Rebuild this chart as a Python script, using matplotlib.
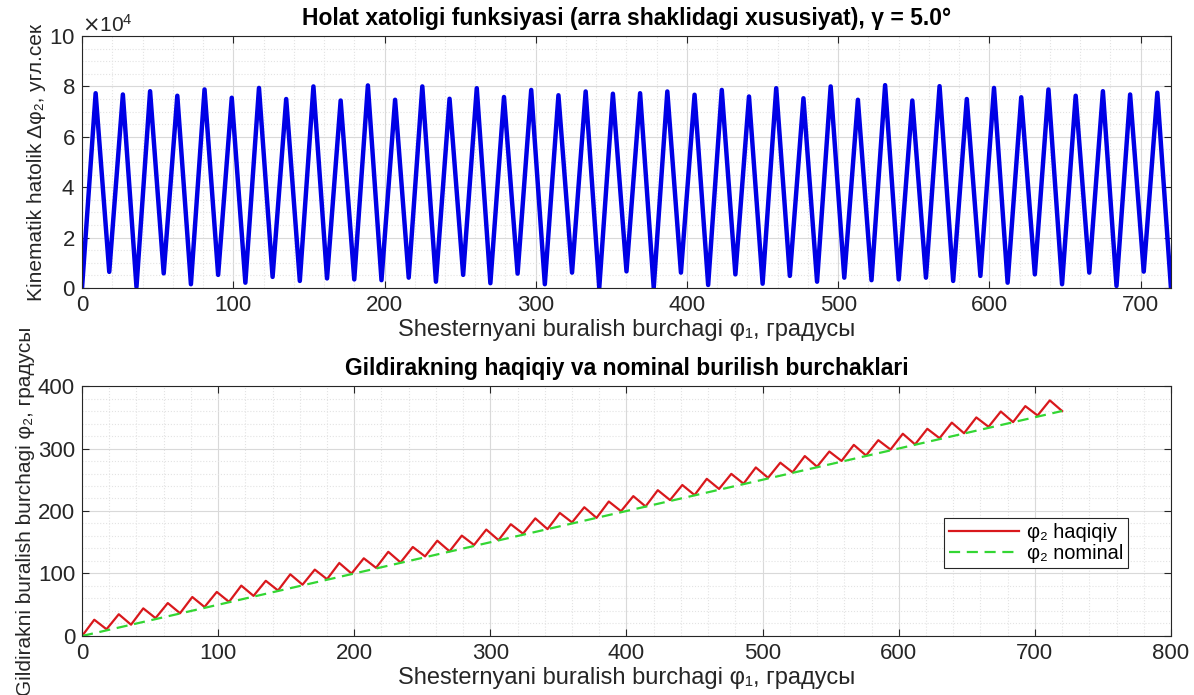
import numpy as np
import matplotlib.pyplot as plt
from matplotlib.ticker import MultipleLocator, ScalarFormatter

plt.rcParams['font.family'] = ['Liberation Sans', 'DejaVu Sans']

# Top chart: kinematic error, vertices every 9 degrees (peak / trough)
err_peaks = [7.73, 7.68, 7.81, 7.63, 7.88, 7.55, 7.94, 7.50, 8.00, 7.44,
             8.04, 7.47, 8.00, 7.51, 7.93, 7.58, 7.86, 7.65, 7.80, 7.71,
             7.73, 7.80, 7.67, 7.86, 7.60, 7.93, 7.53, 8.00, 7.47, 8.05,
             7.44, 8.01, 7.50, 7.94, 7.57, 7.88, 7.63, 7.81, 7.68, 7.75]  # x1e4 arcsec
err_troughs = [0.64, 0.04, 0.58, 0.15, 0.52, 0.21, 0.44, 0.28, 0.38, 0.34,
               0.31, 0.41, 0.25, 0.52, 0.19, 0.57, 0.15, 0.61, 0.01, 0.66,
               0.01, 0.61, 0.12, 0.54, 0.17, 0.48, 0.25, 0.41, 0.31, 0.34,
               0.41, 0.28, 0.48, 0.21, 0.54, 0.15, 0.61, 0.08, 0.65]

# Bottom chart: actual wheel angle, vertices every 9 degrees
phi2_peaks = [26.0, 34.8, 44.2, 52.7, 62.4, 70.5, 80.6, 88.3, 98.7, 106.2,
              116.8, 124.3, 134.7, 142.4, 152.5, 160.6, 170.3, 178.8, 188.2, 196.9,
              206.0, 215.2, 223.8, 233.3, 241.6, 251.5, 259.4, 269.7, 277.3, 287.9,
              295.2, 305.8, 313.3, 323.6, 331.5, 341.4, 349.7, 359.2, 367.8, 377.0]
phi2_troughs = [10.8, 18.1, 28.6, 36.4, 46.4, 54.6, 64.2, 72.8, 82.1, 90.9,
                99.9, 109.1, 117.7, 127.4, 135.5, 145.6, 153.4, 163.7, 171.0, 181.8,
                189.0, 199.7, 207.3, 217.5, 225.5, 235.3, 243.7, 253.1, 261.9, 270.9,
                280.1, 288.8, 298.3, 306.6, 316.5, 324.4, 334.7, 342.2, 352.8]
nominal_x = [0, 720]
nominal_y = [0, 360]

phi1 = np.arange(0, 721, 9)


def zigzag(start, peaks, troughs, end):
    vals = [start]
    for i, p in enumerate(peaks):
        vals.append(p)
        if i < len(troughs):
            vals.append(troughs[i])
    vals.append(end)
    return np.array(vals)


err = zigzag(0.0, err_peaks, err_troughs, 0.0) * 1e4
phi2 = zigzag(0.0, phi2_peaks, phi2_troughs, 360.0)

tick_col = '#262626'
fs = 16      # tick labels
fs_x = 17    # x labels
fs_y = 15    # y labels
fs_t = 16.5  # titles


def style_axes(ax):
    ax.grid(True, which='major', color='#d9d9d9', linewidth=0.8)
    ax.grid(True, which='minor', color='#e3e3e3', linestyle=':', linewidth=0.8)
    ax.tick_params(which='major', direction='in', top=True, right=True,
                   length=5, width=0.8, colors=tick_col, labelsize=fs, pad=5)
    ax.tick_params(which='minor', length=0)
    for s in ax.spines.values():
        s.set_color(tick_col)
        s.set_linewidth(0.8)
    ax.set_axisbelow(True)


fig = plt.figure(figsize=(11.94, 6.95), dpi=100)

ax1 = fig.add_axes([0.0687, 0.5856, 0.912, 0.3626])
ax1.plot(phi1, err, color='#0000e6', linewidth=3.2)
ax1.set_xlim(0, 720)
ax1.set_ylim(0, 1e5)
ax1.xaxis.set_major_locator(MultipleLocator(100))
ax1.xaxis.set_minor_locator(MultipleLocator(20))
ax1.yaxis.set_major_locator(MultipleLocator(2e4))
ax1.yaxis.set_minor_locator(MultipleLocator(0.5e4))
fmt = ScalarFormatter(useMathText=True)
fmt.set_powerlimits((4, 4))
ax1.yaxis.set_major_formatter(fmt)
ax1.yaxis.get_offset_text().set_fontsize(fs - 1)
ax1.yaxis.get_offset_text().set_color(tick_col)
style_axes(ax1)
ax1.set_title('Holat xatoligi funksiyasi (arra shaklidagi xususiyat), γ = 5.0°',
              fontsize=fs_t, fontweight='bold', pad=8)
ax1.set_xlabel('Shesternyani buralish burchagi φ₁, градусы', fontsize=fs_x,
               color=tick_col, labelpad=2)
ax1.set_ylabel('Kinematik hatolik Δφ₂, угл.сек', fontsize=fs_y, color=tick_col,
               labelpad=2)

ax2 = fig.add_axes([0.0687, 0.0849, 0.912, 0.3597])
ax2.plot(phi1, phi2, color='#d9181c', linewidth=1.6, label='φ₂ haqiqiy')
ax2.plot(nominal_x, nominal_y, color='#33d633', linewidth=1.6,
         linestyle=(0, (5, 3)), label='φ₂ nominal')
ax2.set_xlim(0, 800)
ax2.set_ylim(0, 400)
ax2.xaxis.set_major_locator(MultipleLocator(100))
ax2.xaxis.set_minor_locator(MultipleLocator(20))
ax2.yaxis.set_major_locator(MultipleLocator(100))
ax2.yaxis.set_minor_locator(MultipleLocator(20))
style_axes(ax2)
ax2.set_title('Gildirakning haqiqiy va nominal burilish burchaklari',
              fontsize=fs_t, fontweight='bold', pad=8)
ax2.set_xlabel('Shesternyani buralish burchagi φ₁, градусы', fontsize=fs_x,
               color=tick_col, labelpad=2)
ax2.set_ylabel('Gildirakni buralish burchagi φ₂, градусы', fontsize=fs_y,
               color=tick_col, labelpad=2)
leg = ax2.legend(loc='lower right', bbox_to_anchor=(0.961, 0.272), fontsize=14.4,
                 fancybox=False, framealpha=1, edgecolor=tick_col,
                 handlelength=3.5, handletextpad=0.4, borderpad=0.25,
                 labelspacing=0.1, borderaxespad=0)
leg.get_frame().set_linewidth(0.8)

fig.savefig('out.png', dpi=100)
